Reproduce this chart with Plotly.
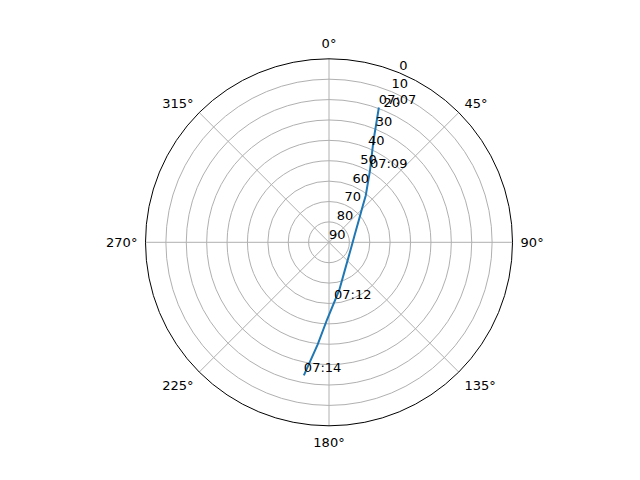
import plotly.graph_objects as go

# Satellite pass track (azimuth in degrees, elevation in degrees)
track_az = [20.3, 23.7, 29.8, 38.2, 42.7, 53.7, 74.8, 97.4, 122.8, 150.3, 167.8, 181.5, 186.3, 190.7]
track_el = [19.5, 35.8, 49.6, 60.9, 65.5, 71.9, 77.0, 78.7, 78.3, 74.3, 66.1, 52.0, 39.6, 23.6]

# Time labels along the track
label_text = ["07:07", "07:09", "07:12", "07:14"]
label_az = [20.3, 29.8, 175.2, 190.7]
label_el = [19.5, 49.6, 60.7, 23.6]

radial_ticks = [0, 10, 20, 30, 40, 50, 60, 70, 80, 90]
radial_label_angle = [22.5] * len(radial_ticks)
angular_ticks = [0, 45, 90, 135, 180, 225, 270, 315]

fig = go.Figure()
fig.add_trace(go.Scatterpolar(
    r=track_el, theta=track_az, mode="lines",
    line=dict(color="#1f77b4", width=2), showlegend=False, hoverinfo="skip"))
# radial tick labels (horizontal, along the 22.5° line)
fig.add_trace(go.Scatterpolar(
    r=radial_ticks, theta=radial_label_angle, mode="text",
    text=[str(t) for t in radial_ticks], textposition="top right",
    textfont=dict(color="black", size=13, family="DejaVu Sans"),
    showlegend=False, hoverinfo="skip", cliponaxis=False))
fig.add_trace(go.Scatterpolar(
    r=label_el, theta=label_az, mode="text", text=label_text,
    textposition="top right",
    textfont=dict(color="black", size=13, family="DejaVu Sans"),
    showlegend=False, hoverinfo="skip", cliponaxis=False))

cx, cy, rad = 321.0, 234.3, 183.5
fig.update_layout(
    width=640, height=480,
    paper_bgcolor="white", plot_bgcolor="white",
    margin=dict(l=0, r=0, t=0, b=0, autoexpand=False),
    font=dict(family="DejaVu Sans", size=13, color="black"),
    polar=dict(
        domain=dict(x=[(cx - rad) / 640, (cx + rad) / 640],
                    y=[(480 - (cy + rad)) / 480, (480 - (cy - rad)) / 480]),
        bgcolor="white",
        angularaxis=dict(
            rotation=90, direction="clockwise",
            tickmode="array", tickvals=angular_ticks,
            ticktext=[f"{a}°" for a in angular_ticks],
            showline=True, linecolor="black", linewidth=1,
            gridcolor="#b0b0b0", gridwidth=0.8,
            ticks="outside", ticklen=5, tickcolor="rgba(0,0,0,0)",
            tickfont=dict(size=13, color="black")),
        radialaxis=dict(
            range=[90, 0], tickmode="array", tickvals=radial_ticks,
            showticklabels=False, angle=67.5, showline=False, ticks="",
            gridcolor="#b0b0b0", gridwidth=0.8),
    ),
)
fig.write_html("out.html")
